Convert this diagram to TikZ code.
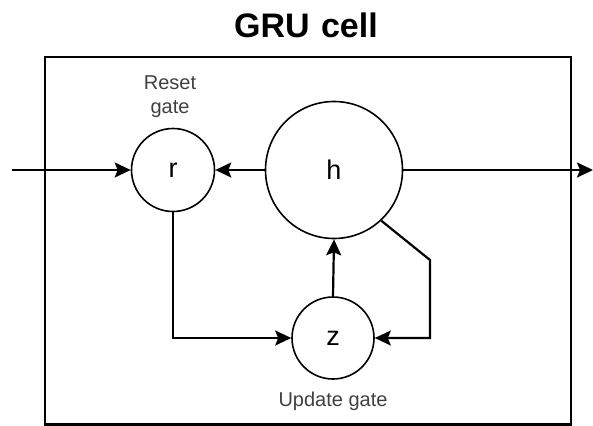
\documentclass[tikz,border=0pt]{standalone}
\usepackage{fontspec}
\setmainfont{Liberation Sans}
\usetikzlibrary{arrows.meta}
\begin{document}
\begin{tikzpicture}[x=1pt,y=-1pt,
  gate/.style={draw, circle, line width=1.6pt, inner sep=0pt, font=\fontsize{27}{30}\selectfont},
  conn/.style={line width=2.2pt, -{Stealth[length=16pt,width=15pt,inset=3pt]}},
  lbl/.style={font=\fontsize{20}{24}\selectfont, text=black!75, align=center}]
\useasboundingbox (0,0) rectangle (593,425);
\node[font=\bfseries\fontsize{34}{36}\selectfont] (title) at (306,25) {GRU\,\,cell};
\draw[line width=2.2pt] (45,57) rectangle (571,424.5);
\node[gate, minimum size=83pt] (r) at (173,170) {r};
\node[gate, minimum size=137pt] (h) at (334,170) {h};
\node[gate, minimum size=82pt] (z) at (333,338) {z};
\node[lbl] (rlab) at (170,97) {Reset\\gate};
\node[lbl] (zlab) at (333,401) {Update gate};
\coordinate (in) at (12,170);
\coordinate (out) at (593,170);
\coordinate (k1) at (430,260);
\draw[conn] (in) -- (r.west);
\draw[conn] (h.west) -- (r.east);
\draw[conn] (h.east) -- (out);
\draw[conn] (z.north) -- (h.south);
\draw[conn] (r.south) |- (z.west);
\draw[conn] (h.-47) -- (k1) |- (z.east);
\end{tikzpicture}
\end{document}
